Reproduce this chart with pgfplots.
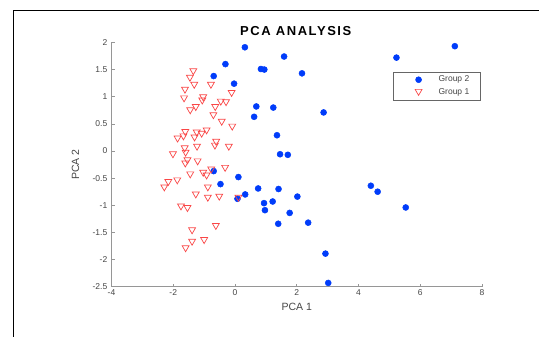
\documentclass[border=0pt]{standalone}
\usepackage{fontspec}
\setmainfont{Liberation Sans}
\usepackage{pgfplots}
\pgfplotsset{compat=1.18}
\definecolor{grpblue}{RGB}{0,60,250}
\definecolor{grpred}{RGB}{250,70,70}
\definecolor{axgray}{RGB}{150,150,150}
\definecolor{txtgray}{RGB}{70,70,70}
\begin{document}
\begin{tikzpicture}[x=1pt,y=1pt]
\useasboundingbox (0,0) rectangle (539,337);
\fill[white] (0,0) rectangle (539,337);
\draw[line width=1.5pt] (13.5,0) -- (13.5,326.3) -- (539,326.3);
\begin{axis}[
  at={(111.5pt,50.25pt)}, anchor=south west, scale only axis,
  width=370.5pt, height=244.35pt,
  xmin=-4, xmax=8, ymin=-2.5, ymax=2,
  clip=false,
  axis x line*=bottom, axis y line*=left,
  axis line style={axgray, line width=0.8pt},
  tick align=inside, major tick length=3pt,
  every tick/.style={axgray, line width=0.6pt},
  xtick={-4,-2,0,2,4,6,8},
  ytick={-2.5,-2,-1.5,-1,-0.5,0,0.5,1,1.5,2},
  /pgf/number format/assume math mode=true,
  tick label style={font=\fontsize{8.5}{10}\selectfont, text=txtgray},
  xticklabel style={inner sep=1pt, yshift=-2pt},
  yticklabel style={inner sep=1pt, xshift=-3pt},
  title={PCA ANALYSIS},
  title style={font=\addfontfeature{LetterSpace=12}\bfseries\fontsize{13}{15}\selectfont, at={(axis description cs:0.5,1)}, anchor=center, yshift=5pt, xshift=-1pt},
  xlabel={PCA 1},
  xlabel style={font=\fontsize{10.5}{12}\selectfont, text=txtgray, at={(axis description cs:0.5,0)}, anchor=center, yshift=-20.3pt},
  ylabel={PCA 2},
  ylabel style={font=\fontsize{10.5}{12}\selectfont, text=txtgray, at={(axis description cs:0,0.5)}, anchor=center, yshift=35.9pt},
  legend cell align=left,
  legend image code/.code={\path (-3pt,-3pt) rectangle (36pt,3pt); \draw[draw=none,#1] plot coordinates {(18pt,0pt)};},
  legend style={at={(rel axis cs:0.9965,0.880)}, anchor=north east, draw=black!60, line width=0.8pt,
    font=\fontsize{8.5}{10}\selectfont, text=txtgray, inner xsep=4pt, inner ysep=2.6pt, row sep=2.6pt,
    nodes={inner xsep=2pt, inner ysep=1.3pt}},
]
\addplot[draw=none, mark=*, mark size=3pt, mark options={fill=grpblue, draw=grpblue, line width=0.5pt}] coordinates {
(0.32,1.91) (-0.31,1.60) (-0.69,1.38) (-0.03,1.24) (1.59,1.74) (0.84,1.51) (0.95,1.50)
(2.17,1.43) (5.23,1.72) (7.12,1.93) (0.69,0.82) (1.24,0.80) (0.62,0.63) (2.87,0.71)
(1.36,0.29) (1.46,-0.06) (1.71,-0.07) (-0.69,-0.37) (0.11,-0.48) (-0.47,-0.61) (0.33,-0.80)
(0.08,-0.88) (0.75,-0.69) (1.41,-0.70) (2.02,-0.84) (0.94,-0.96) (1.22,-0.93) (0.97,-1.09)
(1.77,-1.14) (1.40,-1.34) (2.37,-1.32) (4.40,-0.64) (4.62,-0.75) (5.53,-1.04) (2.93,-1.89)
(3.02,-2.43)
};
\addlegendentry{Group 2\rule{5pt}{0pt}}
\addplot[draw=none, mark=triangle, mark size=4pt, mark options={yshift=1pt, rotate=180, draw=grpred, fill=none, line width=0.7pt}] coordinates {
(-1.35,1.46) (-1.46,1.34) (-1.32,1.21) (-0.78,1.21) (-1.62,1.12) (-1.65,0.96) (-1.03,0.98)
(-1.06,0.92) (-0.11,1.06) (-1.27,0.80) (-1.45,0.74) (-0.64,0.80) (-0.46,0.90) (-0.29,0.89)
(-0.70,0.65) (-0.43,0.53) (-0.09,0.44) (-1.61,0.34) (-1.24,0.33) (-1.86,0.22) (-1.67,0.26)
(-1.31,0.24) (-1.08,0.31) (-0.92,0.37) (-0.61,0.16) (-0.65,0.09) (-1.23,0.07) (-0.20,0.07)
(-1.63,0.04) (-1.60,-0.04) (-2.01,-0.07) (-1.54,-0.18) (-1.61,-0.24) (-1.21,-0.20) (-1.45,-0.44)
(-0.77,-0.35) (-1.03,-0.41) (-0.92,-0.46) (-0.32,-0.32) (-1.87,-0.55) (-2.16,-0.58) (-2.29,-0.68)
(-0.88,-0.68) (-1.27,-0.81) (-0.88,-0.87) (-0.51,-0.85) (0.11,-0.87) (-1.75,-1.03) (-1.54,-1.06)
(-1.39,-1.47) (-0.62,-1.39) (-1.39,-1.68) (-1.00,-1.65) (-1.60,-1.80)
};
\addlegendentry{Group 1\rule{5pt}{0pt}}
\end{axis}
\end{tikzpicture}
\end{document}
